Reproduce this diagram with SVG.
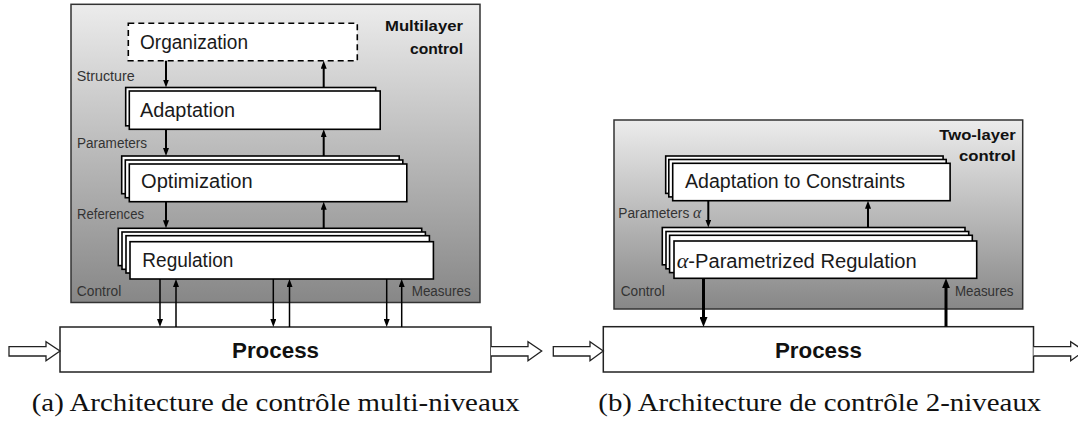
<svg xmlns="http://www.w3.org/2000/svg" width="1078" height="423" viewBox="0 0 1078 423">
<defs>
<linearGradient id="gray" x1="0" y1="0" x2="0" y2="1">
<stop offset="0" stop-color="#ececec"/>
<stop offset="1" stop-color="#878787"/>
</linearGradient>
<marker id="ah" viewBox="0 0 8 6" refX="4" refY="3" markerWidth="8" markerHeight="6" markerUnits="userSpaceOnUse" orient="auto">
<path d="M0,0 L8,3 L0,6 z" fill="#000"/>
</marker>
<marker id="ahb" viewBox="0 0 10 8" refX="5" refY="4" markerWidth="10" markerHeight="8" markerUnits="userSpaceOnUse" orient="auto">
<path d="M0,0 L10,4 L0,8 z" fill="#000"/>
</marker>
<style>
.panel{fill:url(#gray);stroke:#333;stroke-width:1.5}
.box{fill:#fff;stroke:#000;stroke-width:1.6}
.dash{fill:#fff;stroke:#000;stroke-width:1.6;stroke-dasharray:6 4}
.proc{fill:#fff;stroke:#222;stroke-width:1.5}
.hollow{fill:#fff;stroke:#222;stroke-width:1.3;stroke-linejoin:miter}
.a1{stroke:#000;stroke-width:2;fill:none;marker-end:url(#ah)}
.a2{stroke:#000;stroke-width:1.5;fill:none;marker-end:url(#ah)}
.a3{stroke:#000;stroke-width:3;fill:none;marker-end:url(#ahb)}
text{font-family:"Liberation Sans",Arial,sans-serif}
.lbl{font-size:20px;fill:#1a1a1a}
.sm{font-size:14px;fill:#333}
.ttl{font-size:15.5px;font-weight:bold;fill:#111}
.pt{font-size:22px;font-weight:bold;fill:#111}
.cap{font-family:"Liberation Serif","Times New Roman",serif;font-size:26px;fill:#111}
.gr{font-family:"Liberation Serif",serif;font-style:italic}
</style>
</defs>

<!-- Panel (a) -->
<g id="panel-a">
<rect class="panel" x="71" y="4.3" width="409" height="298.2"/>
<text class="ttl" x="463" y="31" text-anchor="end" textLength="78" lengthAdjust="spacingAndGlyphs">Multilayer</text>
<text class="ttl" x="463" y="53.5" text-anchor="end" textLength="53" lengthAdjust="spacingAndGlyphs">control</text>
<text class="sm" x="76.7" y="80.5" textLength="58" lengthAdjust="spacingAndGlyphs">Structure</text>
<text class="sm" x="77" y="147.7" textLength="70" lengthAdjust="spacingAndGlyphs">Parameters</text>
<text class="sm" x="77" y="219" textLength="67" lengthAdjust="spacingAndGlyphs">References</text>
<text class="sm" x="76.8" y="296.3" textLength="44.4" lengthAdjust="spacingAndGlyphs">Control</text>
<text class="sm" x="411.7" y="296.3" textLength="59" lengthAdjust="spacingAndGlyphs">Measures</text>
</g>

<g id="organization">
<rect class="dash" x="128.3" y="23.3" width="229" height="37.4"/>
<text class="lbl" x="140" y="49.3" textLength="108" lengthAdjust="spacingAndGlyphs">Organization</text>
</g>

<g id="adaptation">
<rect class="box" x="125.7" y="87.5" width="250" height="38.3"/>
<rect class="box" x="129.3" y="91" width="250.9" height="38.3"/>
<text class="lbl" x="140" y="116.7" textLength="95" lengthAdjust="spacingAndGlyphs">Adaptation</text>
</g>

<g id="optimization">
<rect class="box" x="121.7" y="156" width="277.5" height="37.7"/>
<rect class="box" x="125.3" y="160" width="277.5" height="37.7"/>
<rect class="box" x="129.3" y="164" width="277.5" height="37.7"/>
<text class="lbl" x="141" y="188.3" textLength="111.7" lengthAdjust="spacingAndGlyphs">Optimization</text>
</g>

<g id="regulation">
<rect class="box" x="118.3" y="228.3" width="303.4" height="37.3"/>
<rect class="box" x="122" y="232" width="303.4" height="37.3"/>
<rect class="box" x="126" y="235.7" width="303.4" height="37.3"/>
<rect class="box" x="130" y="241.7" width="303.4" height="37.3"/>
<text class="lbl" x="142.3" y="266.8" textLength="91" lengthAdjust="spacingAndGlyphs">Regulation</text>
</g>

<g id="process-a">
<rect class="proc" x="60" y="327" width="431" height="45"/>
<text class="pt" x="275.5" y="357.5" text-anchor="middle" textLength="87" lengthAdjust="spacingAndGlyphs">Process</text>
</g>

<text class="cap" x="31.7" y="410.7" textLength="488" lengthAdjust="spacingAndGlyphs">(a) Architecture de contrôle multi-niveaux</text>

<!-- Panel (b) -->
<g id="panel-b">
<rect class="panel" x="614" y="120" width="408.7" height="189"/>
<text class="ttl" x="1015.7" y="140" text-anchor="end" textLength="76.4" lengthAdjust="spacingAndGlyphs">Two-layer</text>
<text class="ttl" x="1015.7" y="160.7" text-anchor="end" textLength="56.7" lengthAdjust="spacingAndGlyphs">control</text>
<text class="sm" x="618.3" y="217.7" textLength="83" lengthAdjust="spacingAndGlyphs">Parameters <tspan class="gr" font-size="16px">α</tspan></text>
<text class="sm" x="620.7" y="295.7" textLength="44" lengthAdjust="spacingAndGlyphs">Control</text>
<text class="sm" x="955" y="295.7" textLength="58.5" lengthAdjust="spacingAndGlyphs">Measures</text>
</g>

<g id="adaptation-constraints">
<rect class="box" x="665.7" y="156" width="277.4" height="37.4"/>
<rect class="box" x="668.8" y="159.5" width="277.4" height="37.4"/>
<rect class="box" x="672.7" y="163.3" width="277.4" height="37.4"/>
<text class="lbl" x="685" y="187.5" textLength="220" lengthAdjust="spacingAndGlyphs">Adaptation to Constraints</text>
</g>

<g id="alpha-regulation">
<rect class="box" x="662.3" y="227.5" width="302.7" height="37.3"/>
<rect class="box" x="666" y="231.5" width="302.7" height="37.3"/>
<rect class="box" x="669.6" y="235.3" width="302.7" height="37.3"/>
<rect class="box" x="674" y="241" width="302.7" height="37.3"/>
<text class="lbl" x="676.7" y="268.3" textLength="240" lengthAdjust="spacingAndGlyphs"><tspan class="gr" font-size="22px">α</tspan>-Parametrized Regulation</text>
</g>

<g id="process-b">
<rect class="proc" x="603.3" y="326.7" width="430.2" height="45.3"/>
<text class="pt" x="818.4" y="357.5" text-anchor="middle" textLength="87" lengthAdjust="spacingAndGlyphs">Process</text>
</g>

<text class="cap" x="598.3" y="410.7" textLength="443" lengthAdjust="spacingAndGlyphs">(b) Architecture de contrôle 2-niveaux</text>

<!-- Connectors -->
<g id="connectors">
<line class="a1" x1="166" y1="60.7" x2="166" y2="83.5"/>
<line class="a1" x1="323.7" y1="87.5" x2="323.7" y2="64.7"/>
<line class="a1" x1="166" y1="129.3" x2="166" y2="152"/>
<line class="a1" x1="323.7" y1="156" x2="323.7" y2="133.3"/>
<line class="a1" x1="166" y1="201.7" x2="166" y2="224.3"/>
<line class="a1" x1="323.7" y1="228.3" x2="323.7" y2="205.7"/>
<line class="a2" x1="160" y1="279" x2="160" y2="323"/>
<line class="a2" x1="176" y1="327" x2="176" y2="283"/>
<line class="a2" x1="273.3" y1="279" x2="273.3" y2="323"/>
<line class="a2" x1="289.5" y1="327" x2="289.5" y2="283"/>
<line class="a2" x1="386.7" y1="279" x2="386.7" y2="323"/>
<line class="a2" x1="401.7" y1="327" x2="401.7" y2="283"/>

<line class="a1" x1="708.3" y1="200.7" x2="708.3" y2="223.5"/>
<line class="a1" x1="868" y1="227.5" x2="868" y2="204.7"/>
<line class="a3" x1="703.5" y1="278.3" x2="703.5" y2="322"/>
<line class="a3" x1="946" y1="326.7" x2="946" y2="283.3"/>

<path class="hollow" d="M9,346.7 H46 V341.7 L60,351 L46,360.7 V356 H9 Z"/>
<path class="hollow" d="M491,346.7 H528 V341.7 L541.7,351 L528,360.7 V356 H491"/>
<path class="hollow" d="M553.3,346.7 H590 V341.7 L603.3,351 L590,360.7 V356 H553.3 Z"/>
<path class="hollow" d="M1033.5,346.7 H1070.7 V341.7 L1084.5,351 L1070.7,360.7 V356 H1033.5"/>
</g>
</svg>
